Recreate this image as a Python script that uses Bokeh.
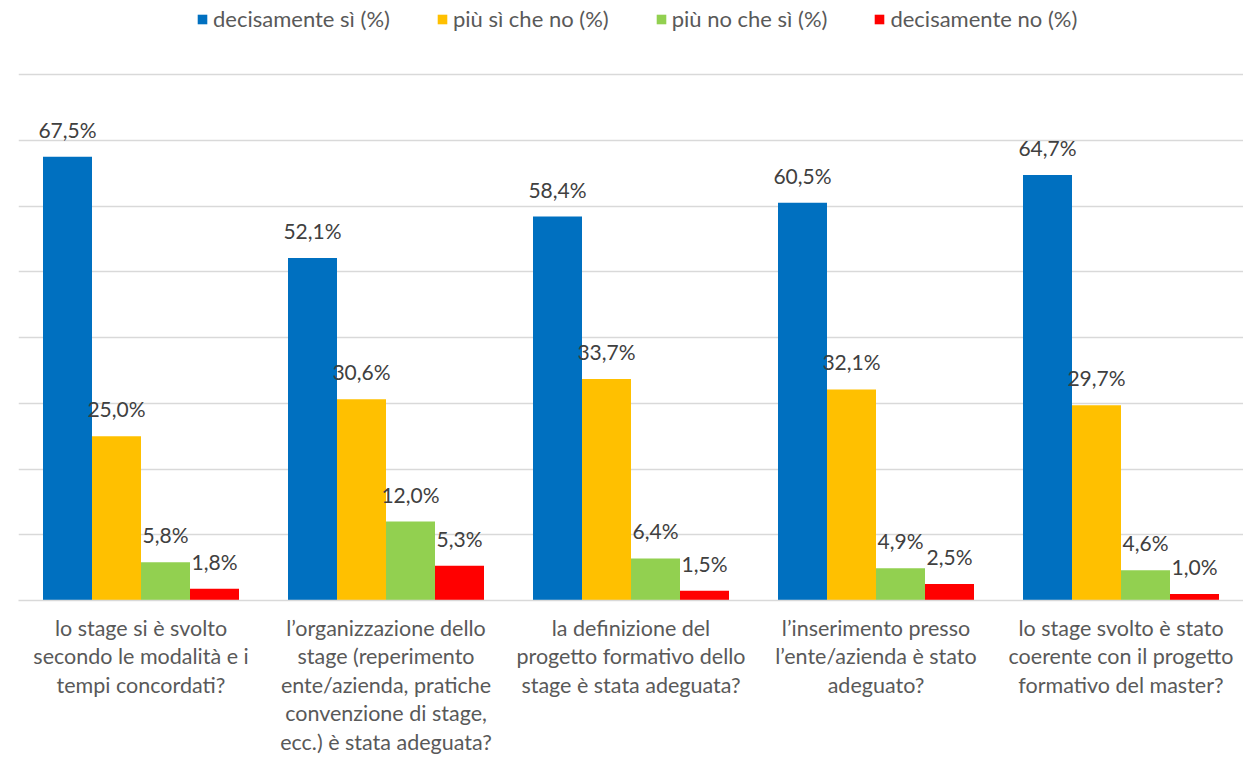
from bokeh.plotting import figure
from bokeh.models import ColumnDataSource, FactorRange, Legend, LegendItem
from bokeh.transform import dodge
from bokeh.core.properties import value
from bokeh.embed import file_html
from bokeh.resources import INLINE

categories = [
    "lo stage si è svolto\nsecondo le modalità e i\ntempi concordati?",
    "l’organizzazione dello\nstage (reperimento\nente/azienda, pratiche\nconvenzione di stage,\necc.) è stata adeguata?",
    "la definizione del\nprogetto formativo dello\nstage è stata adeguata?",
    "l’inserimento presso\nl’ente/azienda è stato\nadeguato?",
    "lo stage svolto è stato\ncoerente con il progetto\nformativo del master?",
]
series_names = ["decisamente sì (%)", "più sì che no (%)", "più no che sì (%)", "decisamente no (%)"]
decisamente_si = [67.5, 52.1, 58.4, 60.5, 64.7]
piu_si = [25.0, 30.6, 33.7, 32.1, 29.7]
piu_no = [5.8, 12.0, 6.4, 4.9, 4.6]
decisamente_no = [1.8, 5.3, 1.5, 2.5, 1.0]
colors = ["#0070C0", "#FFC000", "#92D050", "#FF0000"]

series = [decisamente_si, piu_si, piu_no, decisamente_no]
FONT = "Lato"

data = {"cat": categories}
for i, s in enumerate(series):
    data[f"s{i}"] = s
    data[f"l{i}"] = [f"{v:.1f}%".replace(".", ",") for v in s]
src = ColumnDataSource(data)

FRAME_H = 600
p = figure(x_range=FactorRange(*categories, range_padding=0), y_range=(0, FRAME_H / 6.575),
           frame_width=1225, frame_height=FRAME_H, output_backend="svg", toolbar_location=None,
           min_border_left=18, min_border_right=0, min_border_top=0, min_border_bottom=158)
p.outline_line_color = None
p.background_fill_color = "white"

offsets = [-0.3, -0.1, 0.1, 0.3]
items = []
for i in range(4):
    r = p.vbar(x=dodge("cat", offsets[i], range=p.x_range), top=f"s{i}", width=0.2,
               source=src, fill_color=colors[i], line_color=None)
    p.text(x=dodge("cat", offsets[i], range=p.x_range), y=f"s{i}", text=f"l{i}", source=src,
           text_align="center", text_baseline="bottom", y_offset=-15,
           text_font=value(FONT), text_font_size="21px", text_color="#404040")
    items.append(LegendItem(label=series_names[i], renderers=[r]))

legend = Legend(items=items, orientation="horizontal", location=(178, FRAME_H - 32),
                label_text_font=FONT, label_text_font_size="22px", label_text_color="#595959",
                glyph_width=12, glyph_height=12, spacing=46, label_standoff=5,
                border_line_color=None, background_fill_alpha=0, margin=0, padding=0)
p.add_layout(legend, "center")

p.yaxis.visible = False
p.xgrid.grid_line_color = None
p.ygrid.grid_line_color = "#D9D9D9"
p.ygrid.grid_line_width = 1.5
p.ygrid.ticker = [10, 20, 30, 40, 50, 60, 70, 80]
p.xaxis.axis_line_color = "#D9D9D9"
p.xaxis.axis_line_width = 1.5
p.xaxis.major_tick_line_color = None
p.xaxis.major_tick_out = 0
p.xaxis.major_tick_in = 0
p.xaxis.minor_tick_line_color = None
p.xaxis.major_label_text_font = FONT
p.xaxis.major_label_text_font_size = "21.5px"
p.xaxis.major_label_text_color = "#595959"
p.xaxis.major_label_text_line_height = 1.1
p.xaxis.major_label_standoff = 14
p.xaxis.major_label_orientation = "horizontal"

open("out.html", "w").write(file_html(p, INLINE))
